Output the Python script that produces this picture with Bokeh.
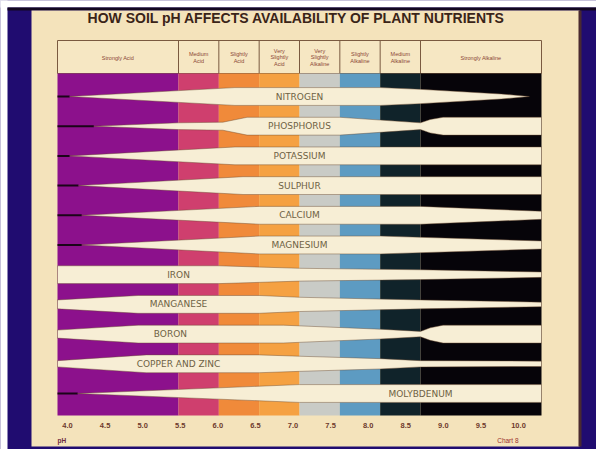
from bokeh.plotting import figure
from bokeh.models import Range1d
from bokeh.core.properties import value
from bokeh.embed import file_html
from bokeh.resources import INLINE

# ---------------- data ----------------
title_text = "HOW SOIL pH AFFECTS AVAILABILITY OF PLANT NUTRIENTS"

zone_edges = [4.0, 5.5, 6.0, 6.5, 7.0, 7.5, 8.0, 8.5, 10.0]
zone_labels = ["Strongly Acid", "Medium\nAcid", "Slightly\nAcid", "Very\nSlightly\nAcid",
               "Very\nSlightly\nAlkaline", "Slightly\nAlkaline", "Medium\nAlkaline",
               "Strongly Alkaline"]
zone_colors = ["#8c118c", "#cf3f6e", "#f08a3a", "#f5a142", "#c9cbc6", "#5d9bc2",
               "#10232a", "#060409"]

tick_values = [4.0, 4.5, 5.0, 5.5, 6.0, 6.5, 7.0, 7.5, 8.0, 8.5, 9.0, 9.5, 10.0]
tick_labels = ["4.0", "4.5", "5.0", "5.5", "6.0", "6.5", "7.0", "7.5", "8.0", "8.5",
               "9.0", "9.5", "10.0"]

nutrients = ["NITROGEN", "PHOSPHORUS", "POTASSIUM", "SULPHUR", "CALCIUM", "MAGNESIUM",
             "IRON", "MANGANESE", "BORON", "COPPER AND ZINC", "MOLYBDENUM"]
label_ph = [7.0, 7.0, 7.0, 7.0, 7.0, 7.0, 5.5, 5.5, 5.4, 5.5, 8.5]

# relative availability (band thickness, 1 = full) at pH points
nitrogen_ph = [4.15, 6.2, 8.0, 8.5, 9.5, 9.85]
nitrogen_w = [0.0, 1.0, 1.0, 0.8, 0.28, 0.0]
phosphorus_ph = [4.45, 5.5, 6.05, 6.35, 7.5, 8.5, 8.62, 8.78, 10.0]
phosphorus_w = [0.0, 0.38, 0.45, 1.0, 1.0, 0.38, 0.75, 1.0, 1.0]
potassium_ph = [4.15, 6.2, 10.0]
potassium_w = [0.0, 1.0, 1.0]
sulphur_ph = [4.26, 6.3, 10.0]
sulphur_w = [0.0, 1.0, 1.0]
calcium_ph = [4.3, 6.5, 8.5, 10.0]
calcium_w = [0.0, 1.0, 1.0, 0.45]
magnesium_ph = [4.3, 6.5, 8.0, 10.0]
magnesium_w = [0.0, 1.0, 1.0, 0.45]
iron_ph = [4.0, 6.0, 7.0, 8.5, 10.0]
iron_w = [1.0, 1.0, 0.72, 0.55, 0.3]
manganese_ph = [4.0, 5.0, 6.5, 7.0, 8.5, 10.0]
manganese_w = [0.5, 1.0, 1.0, 0.8, 0.5, 0.25]
boron_ph = [4.0, 5.0, 6.8, 8.0, 8.5, 8.62, 8.78, 10.0]
boron_w = [0.45, 1.0, 1.0, 0.55, 0.3, 0.7, 1.0, 1.0]
copper_zinc_ph = [4.0, 5.1, 6.5, 7.0, 8.0, 8.5, 10.0]
copper_zinc_w = [0.35, 1.0, 1.0, 0.85, 0.58, 0.35, 0.3]
molybdenum_ph = [4.25, 7.0, 10.0]
molybdenum_w = [0.0, 1.0, 1.0]

profiles = [(nitrogen_ph, nitrogen_w), (phosphorus_ph, phosphorus_w),
            (potassium_ph, potassium_w), (sulphur_ph, sulphur_w),
            (calcium_ph, calcium_w), (magnesium_ph, magnesium_w),
            (iron_ph, iron_w), (manganese_ph, manganese_w), (boron_ph, boron_w),
            (copper_zinc_ph, copper_zinc_w), (molybdenum_ph, molybdenum_w)]

# ---------------- layout ----------------
W, H = 596, 449
PXX = 484 / 6.0          # px per pH unit
X0 = 4.0 - 57 / PXX
PY = 29.7                # px per nutrient row
Y0 = -96 / PY
HALF = 0.3               # half band thickness (rows)
TPX = 451 / 12.0 * 2     # px per pH unit of the printed scale labels
TX0 = 4.0 - 67 / TPX


def dx(px):
    return X0 + px / PXX


def dy(py):
    return Y0 + py / PY


BLUE = "#200c70"
SLIDE = "#f4e3bb"
BAND = "#f7eed5"
INK = "#3a2418"

p = figure(width=W, height=H, title=None,
           x_range=Range1d(X0, X0 + W / PXX),
           y_range=Range1d(start=Y0 + H / PY, end=Y0),
           x_axis_type=None, y_axis_type=None,
           output_backend="svg", toolbar_location=None, min_border=0,
           background_fill_color=BLUE, border_fill_color=BLUE,
           outline_line_color=None)
p.extra_x_ranges = {"ticks": Range1d(TX0, TX0 + W / TPX)}

# page margin, frame and slide
p.quad(left=[dx(-5), dx(-5)], right=[dx(7), dx(600)], top=[dy(-5), dy(-5)],
       bottom=[dy(460), dy(7)], fill_color="white", line_color=None)
p.quad(left=[dx(7)], right=[dx(600)], top=[dy(7)], bottom=[dy(10)],
       fill_color="#120620", line_color=None)
p.quad(left=[dx(31)], right=[dx(579)], top=[dy(10)], bottom=[dy(446)],
       fill_color=SLIDE, line_color=None)
p.quad(left=[dx(578)], right=[dx(581)], top=[dy(10)], bottom=[dy(446)],
       fill_color="#4a2a30", line_color=None)

# title
p.text(x=[dx(296)], y=[dy(17.5)], text=[title_text], text_align="center",
       text_baseline="middle", text_font=value("Liberation Sans"),
       text_font_style="bold", text_font_size="14px", text_color=INK)

# header box
centers = [(a + b) / 2 for a, b in zip(zone_edges[:-1], zone_edges[1:])]
p.quad(left=[zone_edges[0]], right=[zone_edges[-1]], top=[dy(40)], bottom=[dy(73)],
       fill_color="#f6e7c3", line_color="#7a5a40", line_width=1)
p.segment(x0=zone_edges[1:-1], x1=zone_edges[1:-1],
          y0=[dy(40)] * (len(zone_edges) - 2), y1=[dy(73)] * (len(zone_edges) - 2),
          line_color="#7a5a40", line_width=1)
p.text(x=centers, y=[dy(57)] * len(centers), text=zone_labels, text_align="center",
       text_baseline="middle", text_font=value("Liberation Sans"),
       text_font_size="5.5px", text_color="#8a4634", text_line_height=1.05)

# pH zone colour strips
p.quad(left=zone_edges[:-1], right=zone_edges[1:],
       top=[dy(73)] * len(zone_colors), bottom=[dy(415)] * len(zone_colors),
       fill_color=zone_colors, line_color=None)

rows = list(range(len(nutrients)))

# thin dark leader lines before the band tips
tx0, tx1, ty = [], [], []
for i, (ph, w) in enumerate(profiles):
    if w[0] == 0 and ph[0] > zone_edges[0]:
        tx0.append(zone_edges[0])
        tx1.append(ph[0])
        ty.append(i)
p.segment(x0=tx0, x1=tx1, y0=ty, y1=ty, line_color="#1a0418", line_width=2)

# nutrient bands
xs, ys = [], []
for i, (ph, w) in enumerate(profiles):
    xs.append(list(ph) + list(ph)[::-1])
    ys.append([i - HALF * v for v in w] + [i + HALF * v for v in w][::-1])
p.patches(xs, ys, fill_color=BAND, line_color="#6a4a30", line_alpha=0.55,
          line_width=0.8)

p.text(x=label_ph, y=rows, text=nutrients, text_align="center", text_baseline="middle",
       text_font=value("DejaVu Sans"), text_font_size="9px", text_color="#6e6244")

# bottom tick labels
p.text(x=tick_values, y=[dy(425)] * len(tick_values), text=tick_labels,
       x_range_name="ticks", text_align="center", text_baseline="middle",
       text_font=value("Liberation Sans"), text_font_style="bold",
       text_font_size="7.5px", text_color="#6e3a2c")
p.text(x=[zone_edges[0]], y=[dy(440)], text=["pH"], text_align="left",
       text_baseline="middle", text_font=value("Liberation Sans"),
       text_font_style="bold", text_font_size="6.5px", text_color="#6a2a40")
p.text(x=[tick_values[-1]], y=[dy(440)], text=["Chart 8"], x_range_name="ticks",
       text_align="right", text_baseline="middle", text_font=value("Liberation Sans"),
       text_font_size="6.5px", text_color="#9a3030")

open("out.html", "w").write(file_html(p, INLINE))
